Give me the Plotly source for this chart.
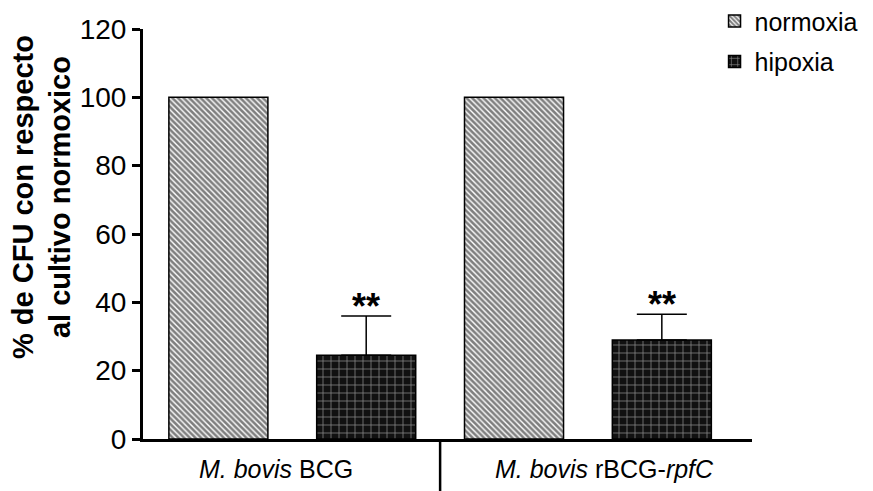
import plotly.graph_objects as go

# Data: % CFU relative to the normoxic culture
strains = ["M. bovis BCG", "M. bovis rBCG-rpfC"]
strain_labels = ["<i>M. bovis</i> BCG", "<i>M. bovis</i> rBCG-<i>rpfC</i>"]
normoxia = [100, 100]
hipoxia = [24.5, 29.0]
hipoxia_err = [11.5, 7.5]
significance = ["**", "**"]

FONT = "Liberation Sans, Arial, sans-serif"
BARGAP = 0.0
BARGROUPGAP = 0.33

fig = go.Figure()

fig.add_trace(go.Bar(
    x=strains, y=normoxia, name="normoxia", legendgroup="n",
    marker=dict(
        color="white",
        line=dict(color="black", width=1.5),
        pattern=dict(shape="\\", fgcolor="#000000", bgcolor="white",
                     size=4, solidity=0.65),
    ),
))

fig.add_trace(go.Bar(
    x=strains, y=hipoxia, name="hipoxia", legendgroup="h",
    marker=dict(
        color="#111111",
        line=dict(color="black", width=1.5),
        pattern=dict(shape="+", fgcolor="white", bgcolor="#111111",
                     size=8, solidity=0.18),
    ),
    error_y=dict(type="data", symmetric=False, array=hipoxia_err,
                 arrayminus=[0] * len(hipoxia_err),
                 color="black", thickness=1.5, width=25),
))

annotations = []

# significance marks above the hipoxia error bars
offset = (1 - BARGAP) / 4
for i, (m, e, s) in enumerate(zip(hipoxia, hipoxia_err, significance)):
    annotations.append(dict(
        x=i + offset, y=m + e, xref="x", yref="y", text=s, showarrow=False,
        yanchor="middle", yshift=10,
        font=dict(family=FONT, size=36, color="black", weight="bold"),
    ))

# strain labels under the axis, either side of the divider
for i, lab in enumerate(strain_labels):
    annotations.append(dict(
        x=0.5 + (i - 0.5) * 1.109, y=-0.073, xref="x", yref="paper",
        text=lab, showarrow=False, xanchor="center", yanchor="middle",
        font=dict(family=FONT, size=25, color="black"),
    ))

# y-axis title
annotations.append(dict(
    x=-0.166, y=0.59, xref="paper", yref="paper",
    text="% de CFU con respecto<br>al cultivo normoxico",
    textangle=-90, showarrow=False, xanchor="center", yanchor="middle",
    font=dict(family=FONT, size=29, color="black", weight="bold"),
))

fig.update_layout(
    width=873, height=491,
    margin=dict(l=143, r=121, t=29, b=52, pad=0, autoexpand=False),
    paper_bgcolor="white", plot_bgcolor="white",
    barmode="group", bargap=BARGAP, bargroupgap=BARGROUPGAP,
    font=dict(family=FONT, color="black"),
    showlegend=True,
    legend=dict(
        x=0.9385, y=1.075, xanchor="left", yanchor="top",
        font=dict(family=FONT, size=25, color="black"),
        bgcolor="rgba(0,0,0,0)", traceorder="grouped", tracegroupgap=5,
    ),
    annotations=annotations,
    shapes=[dict(
        type="line", xref="x", yref="paper", x0=0.5, x1=0.5, y0=0, y1=-0.13,
        line=dict(color="black", width=2.5),
    )],
    xaxis=dict(
        range=[-0.505, 1.555], showticklabels=False, ticks="",
        showline=True, linecolor="black", linewidth=3,
        showgrid=False, zeroline=False, fixedrange=True,
    ),
    yaxis=dict(
        range=[0, 120], dtick=20, ticks="outside", ticklen=8, tickwidth=3,
        tickcolor="black", showline=True, linecolor="black", linewidth=3,
        showgrid=False, zeroline=False,
        tickfont=dict(family=FONT, size=28, color="black"),
    ),
)

fig.write_html("out.html")
